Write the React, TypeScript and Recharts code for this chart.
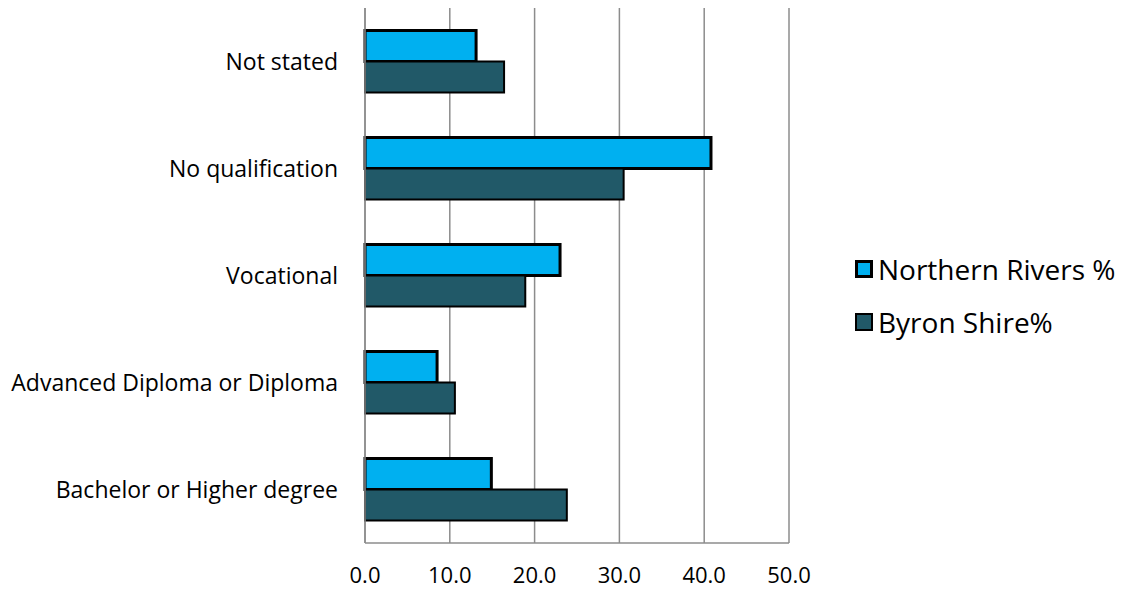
import { BarChart, Bar, XAxis, YAxis, CartesianGrid } from 'recharts';

const categories = [
  'Not stated',
  'No qualification',
  'Vocational',
  'Advanced Diploma or Diploma',
  'Bachelor or Higher degree',
];
const northernRivers = [13.1, 40.8, 23.0, 8.5, 14.9];
const byronShire = [16.4, 30.5, 18.9, 10.6, 23.8];
const xTicks = [0, 10, 20, 30, 40, 50];

const NR_COLOR = '#00B0F0';
const BS_COLOR = '#215968';
const FONT = '"Open Sans", sans-serif';

const data = categories.map((name, i) => ({
  name,
  nr: northernRivers[i],
  bs: byronShire[i],
}));

const legendItems = [
  { label: 'Northern Rivers %', color: NR_COLOR, border: 3 },
  { label: 'Byron Shire%', color: BS_COLOR, border: 2 },
];

function LegendBox() {
  return (
    <div style={{ position: 'absolute', left: 855, top: 242, fontFamily: FONT, fontSize: 28, color: '#000' }}>
      {legendItems.map((item) => (
        <div key={item.label} style={{ display: 'flex', alignItems: 'center', height: 53, whiteSpace: 'nowrap' }}>
          <span
            style={{
              display: 'inline-block',
              width: 18 - item.border * 2,
              height: 18 - item.border * 2,
              background: item.color,
              border: `${item.border}px solid #000`,
              marginRight: 5,
            }}
          />
          <span>{item.label}</span>
        </div>
      ))}
    </div>
  );
}

export default function App() {
  return (
    <div style={{ position: 'fixed', left: 0, top: 0, width: 1122, height: 592, background: '#fff' }}>
      <BarChart
        width={1122}
        height={592}
        data={data}
        layout="vertical"
        margin={{ top: 8, right: 333, bottom: 0, left: 0 }}
        barCategoryGap="21%"
        barGap={0}
      >
        <CartesianGrid horizontal={false} stroke="#8C8C8C" strokeWidth={1.5} />
        <XAxis
          type="number"
          domain={[0, 50]}
          ticks={xTicks}
          tickFormatter={(v: number) => v.toFixed(1)}
          tickLine={false}
          axisLine={{ stroke: '#8C8C8C', strokeWidth: 1.5 }}
          tickSize={0}
          tickMargin={24}
          height={49}
          tick={{ fill: '#000', fontSize: 22, fontFamily: FONT }}
          interval={0}
        />
        <YAxis
          type="category"
          dataKey="name"
          width={365}
          tickLine={false}
          axisLine={{ stroke: '#8C8C8C', strokeWidth: 1.5 }}
          tickSize={0}
          tickMargin={27}
          tick={{ fill: '#000', fontSize: 23, fontFamily: FONT }}
          interval={0}
        />
        <Bar dataKey="nr" name="Northern Rivers %" fill={NR_COLOR} stroke="#000" strokeWidth={3} isAnimationActive={false} />
        <Bar dataKey="bs" name="Byron Shire%" fill={BS_COLOR} stroke="#000" strokeWidth={2} isAnimationActive={false} />
      </BarChart>
      <LegendBox />
    </div>
  );
}
